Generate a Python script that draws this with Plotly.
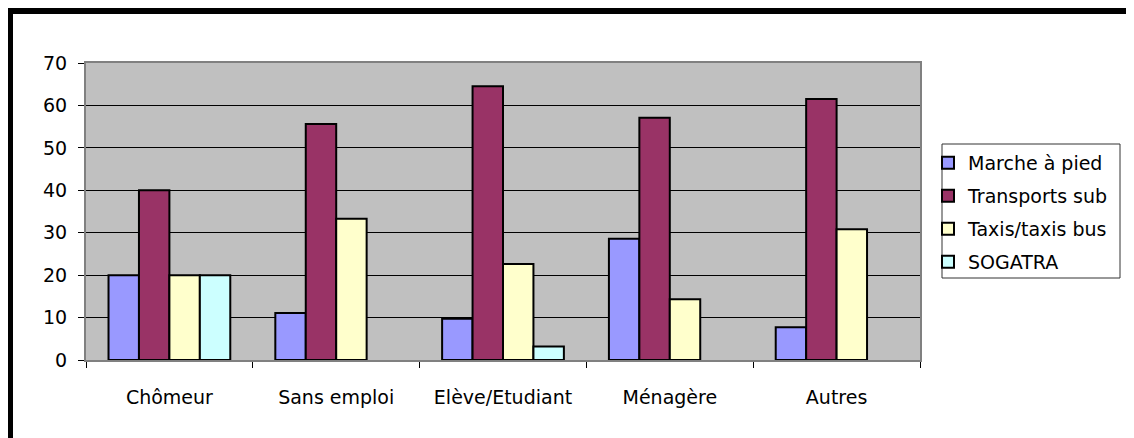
import plotly.graph_objects as go

categories = ["Chômeur", "Sans emploi", "Elève/Etudiant", "Ménagère", "Autres"]
marche = [20.0, 11.1, 9.7, 28.6, 7.7]
transports = [40.0, 55.6, 64.5, 57.1, 61.5]
taxis = [20.0, 33.3, 22.6, 14.3, 30.8]
sogatra = [20.0, None, 3.2, None, None]

series_names = ["Marche à pied", "Transports sub", "Taxis/taxis bus", "SOGATRA"]
series_values = [marche, transports, taxis, sogatra]
series_colors = ["#9999FF", "#993366", "#FFFFCC", "#CCFFFF"]

OFF = 8  # page body margin
W, H = 1134 - OFF, 438 - OFF
# plot area in page pixels
PL, PR, PT, PB = 86, 920, 63, 360
L, R, T, B = PL - OFF, PR - OFF, PT - OFF, PB - OFF

def px_x(p):  # page px -> paper x
    return (p - OFF - L) / (R - L)

def px_y(p):  # page px -> paper y
    return (B - (p - OFF)) / (B - T)

FONT = "DejaVu Sans"
FS = 19

fig = go.Figure()
for i, (name, vals, col) in enumerate(zip(series_names, series_values, series_colors)):
    fig.add_trace(go.Bar(
        x=categories, y=vals, name=name, legendgroup=f"g{i}",
        marker=dict(color=col, line=dict(color="black", width=2)),
    ))

shapes = [
    # outer frame (left and top)
    dict(type="rect", xref="paper", yref="paper", x0=px_x(6), x1=px_x(13), y0=px_y(8), y1=px_y(450),
         fillcolor="black", line=dict(width=0), layer="above"),
    dict(type="rect", xref="paper", yref="paper", x0=px_x(6), x1=px_x(1140), y0=px_y(8), y1=px_y(14),
         fillcolor="black", line=dict(width=0), layer="above"),
    # legend box
    dict(type="rect", xref="paper", yref="paper", x0=px_x(942), x1=px_x(1120), y0=px_y(144), y1=px_y(278),
         fillcolor="rgba(0,0,0,0)", line=dict(color="#333333", width=1), layer="above"),
]

fig.update_layout(
    width=W, height=H,
    margin=dict(l=L, r=W - R, t=T, b=H - B, pad=0),
    paper_bgcolor="white", plot_bgcolor="#C0C0C0",
    barmode="group", bargap=0.27, bargroupgap=0,
    font=dict(family=FONT, size=FS, color="black"),
    showlegend=True,
    legend=dict(x=px_x(928), y=px_y(144), xanchor="left", yanchor="top",
                bgcolor="rgba(0,0,0,0)", borderwidth=0,
                traceorder="grouped", tracegroupgap=5.3,
                font=dict(family=FONT, size=FS, color="black")),
    shapes=shapes,
)
fig.update_xaxes(showline=True, linecolor="#808080", linewidth=2, mirror=True,
                 ticks="outside", tickson="boundaries", ticklen=6, tickcolor="black",
                 tickfont=dict(family=FONT, size=FS), ticklabelstandoff=19, showgrid=False)
fig.update_yaxes(range=[0, 70], dtick=10, showline=True, linecolor="#808080", linewidth=2, mirror=True,
                 ticks="outside", ticklen=6, tickcolor="black", showgrid=True, gridcolor="black",
                 gridwidth=1, zeroline=False, tickfont=dict(family=FONT, size=FS), ticklabelstandoff=7)

fig.write_html("out.html")
